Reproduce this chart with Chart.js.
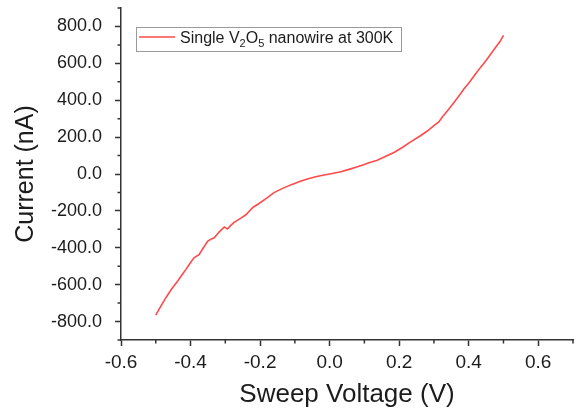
<!DOCTYPE html>
<html>
<head>
<meta charset="utf-8">
<script src="https://cdn.jsdelivr.net/npm/chart.js@4/dist/chart.umd.min.js"></script>
<style>
  html, body { margin: 0; padding: 0; background: #fff; }
  #wrap { width: 577px; height: 410px; }
</style>
</head>
<body>
<div id="wrap"><canvas id="iv"></canvas></div>
<script>
// I–V sweep of a single V2O5 nanowire at 300 K
const voltage = [
  -0.500, -0.485, -0.470, -0.455, -0.437, -0.425, -0.413, -0.400, -0.390, -0.375,
  -0.363, -0.351, -0.340, -0.332, -0.318, -0.303, -0.294, -0.285, -0.275, -0.255,
  -0.241, -0.220, -0.203, -0.180, -0.160, -0.135, -0.112, -0.088, -0.064, -0.040,
  -0.016, 0.008, 0.032, 0.056, 0.080, 0.100, 0.113, 0.137, 0.160, 0.185,
  0.210, 0.233, 0.260, 0.281, 0.300, 0.314, 0.324, 0.338, 0.347, 0.362,
  0.376, 0.386, 0.400, 0.420, 0.434, 0.450, 0.465, 0.477, 0.490, 0.500
];
const current = [
  -765, -715, -668, -625, -580, -548, -517, -480, -454, -436,
  -400, -365, -352, -346, -315, -287, -298, -280, -262, -239,
  -221, -180, -160, -130, -101, -78, -59, -42, -27, -15,
  -5, 3, 12, 25, 39, 52, 61, 75, 95, 117,
  145, 174, 206, 233, 262, 282, 309, 340, 362, 398,
  434, 461, 492, 543, 578, 615, 655, 686, 718, 752
];

// axis ticks
const xMajorTicks = [-0.6, -0.4, -0.2, 0.0, 0.2, 0.4, 0.6];
const xMinorTicks = [-0.5, -0.3, -0.1, 0.1, 0.3, 0.5, 0.7];
const yMajorTicks = [-800, -600, -400, -200, 0, 200, 400, 600, 800];
const yMinorTicks = [-900, -700, -500, -300, -100, 100, 300, 500, 700, 900];

const seriesLabel = ['Single V', '2', 'O', '5', ' nanowire at 300K'];

const RED = '#ff4a4a';
const AXIS = '#333333';
const TEXT = '#1c1c1c';
const FONT = '"Liberation Sans", Arial, Helvetica, sans-serif';

// short outward ticks between the labelled ones
const minorTicks = {
  id: 'minorTicks',
  afterDraw(chart) {
    const ctx = chart.ctx;
    const xs = chart.scales.x, ys = chart.scales.y;
    const area = chart.chartArea;
    ctx.save();
    ctx.strokeStyle = AXIS;
    ctx.lineWidth = 1.5;
    ctx.beginPath();
    xMinorTicks.forEach(v => {
      const px = xs.getPixelForValue(v);
      ctx.moveTo(px, area.bottom);
      ctx.lineTo(px, area.bottom + 3.5);
    });
    yMinorTicks.forEach(v => {
      const py = ys.getPixelForValue(v);
      ctx.moveTo(area.left, py);
      ctx.lineTo(area.left - 3.5, py);
    });
    ctx.stroke();
    ctx.restore();
  }
};

// boxed legend with subscripted formula
const formulaLegend = {
  id: 'formulaLegend',
  afterDraw(chart) {
    const ctx = chart.ctx;
    const bx = 136.5, by = 27.5, bw = 265, bh = 24;
    ctx.save();
    ctx.fillStyle = '#ffffff';
    ctx.fillRect(bx, by, bw, bh);
    ctx.strokeStyle = '#9a9a9a';
    ctx.lineWidth = 1;
    ctx.strokeRect(bx, by, bw, bh);
    ctx.strokeStyle = RED;
    ctx.lineWidth = 1.5;
    ctx.beginPath();
    ctx.moveTo(139, 37);
    ctx.lineTo(175, 37);
    ctx.stroke();
    ctx.fillStyle = TEXT;
    ctx.textBaseline = 'alphabetic';
    let x = 180;
    seriesLabel.forEach((part, i) => {
      const sub = (i === 1 || i === 3);
      ctx.font = (sub ? '11px ' : '16px ') + FONT;
      ctx.fillText(part, x, sub ? 47 : 43);
      x += ctx.measureText(part).width;
    });
    ctx.restore();
  }
};

new Chart(document.getElementById('iv'), {
  type: 'line',
  data: {
    datasets: [{
      label: seriesLabel.join(''),
      data: voltage.map((v, i) => ({ x: v, y: current[i] })),
      borderColor: RED,
      borderWidth: 1.6,
      pointRadius: 0,
      tension: 0,
      fill: false
    }]
  },
  options: {
    responsive: true,
    maintainAspectRatio: false,
    animation: false,
    layout: { padding: { top: 8, right: 4, left: 0, bottom: 0 } },
    plugins: {
      legend: { display: false },
      tooltip: { enabled: false }
    },
    scales: {
      x: {
        type: 'linear',
        min: -0.6,
        max: 0.7,
        afterBuildTicks(scale) { scale.ticks = xMajorTicks.map(v => ({ value: v })); },
        afterFit(scale) { scale.height = 70; scale.paddingLeft = 0; scale.paddingRight = 0; },
        ticks: {
          color: TEXT,
          font: { family: FONT, size: 19 },
          padding: 5,
          maxRotation: 0,
          autoSkip: false,
          callback: v => Number(v).toFixed(1)
        },
        grid: { display: true, drawOnChartArea: false, drawTicks: true, tickLength: 6, tickColor: AXIS, tickWidth: 1.5 },
        border: { display: true, color: AXIS, width: 1.5 },
        title: {
          display: true,
          text: 'Sweep Voltage (V)',
          color: TEXT,
          font: { family: FONT, size: 26 },
          padding: { top: 0, bottom: 0 }
        }
      },
      y: {
        type: 'linear',
        min: -900,
        max: 900,
        afterBuildTicks(scale) { scale.ticks = yMajorTicks.map(v => ({ value: v })); },
        afterFit(scale) { scale.width = 121; scale.paddingTop = 0; scale.paddingBottom = 0; },
        ticks: {
          color: TEXT,
          font: { family: FONT, size: 18 },
          padding: 13,
          autoSkip: false,
          callback: v => Number(v).toFixed(1)
        },
        grid: { display: true, drawOnChartArea: false, drawTicks: true, tickLength: 6, tickColor: AXIS, tickWidth: 1.5 },
        border: { display: true, color: AXIS, width: 1.5 },
        title: {
          display: true,
          text: 'Current (nA)',
          color: TEXT,
          font: { family: FONT, size: 25 },
          padding: { top: 11, bottom: 0 }
        }
      }
    }
  },
  plugins: [minorTicks, formulaLegend]
});
</script>
</body>
</html>
